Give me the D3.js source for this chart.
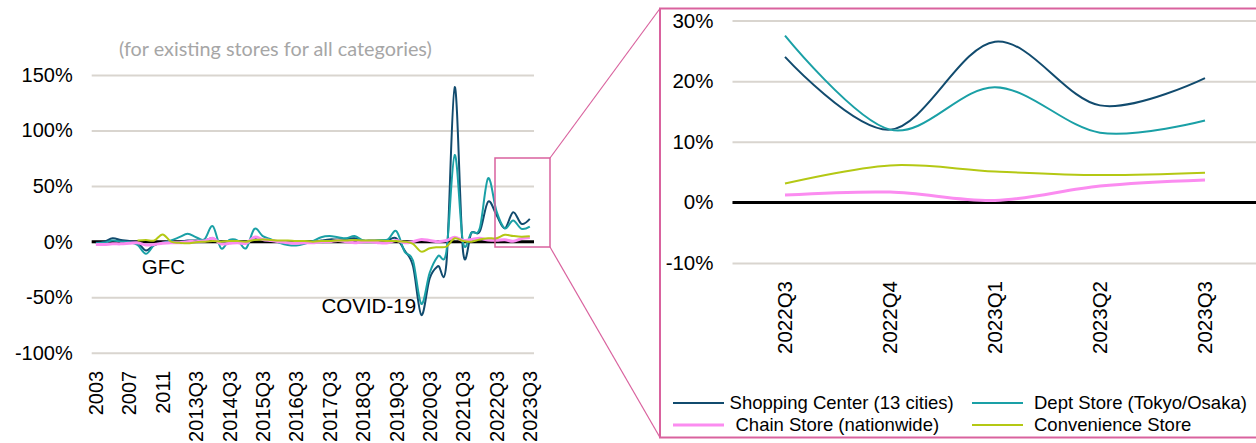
<!DOCTYPE html>
<html>
<head>
<meta charset="utf-8">
<script src="https://cdn.jsdelivr.net/npm/d3@7"></script>
<style>
body { margin: 0; background: #fff; }
text { font-family: "Liberation Sans", Arial, sans-serif; }
</style>
</head>
<body>
<div id="chart"></div>
<script>
var categories = ["2003","2004","2005","2006","2007","2008","2009","2010","2011","2012",
  "2013Q1","2013Q2","2013Q3","2013Q4","2014Q1","2014Q2","2014Q3","2014Q4",
  "2015Q1","2015Q2","2015Q3","2015Q4","2016Q1","2016Q2","2016Q3","2016Q4",
  "2017Q1","2017Q2","2017Q3","2017Q4","2018Q1","2018Q2","2018Q3","2018Q4",
  "2019Q1","2019Q2","2019Q3","2019Q4","2020Q1","2020Q2","2020Q3","2020Q4",
  "2021Q1","2021Q2","2021Q3","2021Q4","2022Q1","2022Q2","2022Q3","2022Q4",
  "2023Q1","2023Q2","2023Q3"];

var shoppingCenter = [-1, 0, 3, 1.5, 0.5, -1, -8, -3, -1, -0.5,
  0, 1, 1, 1, 3, -1, 0, -0.5, -1, 3, 1.5, 1, 0, -0.5, -1, 0,
  0, 1, 2, 2, 2.5, 3, 1, 1, 1, 1.5, 3, -8, -22, -66, -33, -22,
  -20, 139, -9, 8, 9, 36, 24, 12, 26.5, 16, 20.5];

var deptStore = [-1.5, -1, 1, 0, -0.5, -3, -11, -3, -1, 1,
  4, 7, 4, 2, 14, -6, 1.5, 1, -6, 11.5, 5, 2, -1, -3, -3.5, -2,
  0.5, 4, 5, 4, 3, 5, 1, 0, 1.5, 2, 9.5, -9, -17, -56, -28, -13,
  -9, 78, -1, 8, 12, 57, 27.5, 12, 19, 11.5, 13.5];

var chainStore = [-2.5, -2.5, -2, -2, -1.5, -1, -3, -2.5, -1.5, -1,
  -1, 0, 0, 0.5, 3, -2, -1.5, -1, -1.5, 4, 2, 1, 0, -1, -1.5, -1,
  -1, 0, 0, 1, 0, -1, 0, 0, -1, -1, 1, -1, 0, 2, 1, 0,
  1, 4, 1, 2, 3, 1.5, 1.2, 1.7, 0.3, 2.7, 3.7];

var convenienceStore = [null, null, null, null, null, 1, 1.5, 1, 6.5, 0,
  -1, -1.5, -0.5, 0, 0.5, 0, 0.5, 0.5, 0, 1.5, 2, 1.5, 1, 1, 0.5, 0.5,
  0, 0.5, 0.5, 1, 1, 1.5, 1, 1, 1, 0.5, 0.5, 0, -2, -9, -6, -5,
  -4.5, 3, 0.5, 0, 2, 3, 3.1, 6.1, 5.1, 4.5, 4.9];

var seriesNames = ["Shopping Center (13 cities)", "Dept Store (Tokyo/Osaka)",
  "Chain Store (nationwide)", "Convenience Store"];

var leftTicks = [-100, -50, 0, 50, 100, 150];
var rightTicks = [-10, 0, 10, 20, 30];
var zoomCategories = categories.slice(48);

var colors = ["#114b6e", "#1aa0a6", "#fb8cf0", "#b4c814"];
var widths = [2, 2, 3, 2];
var pinkFrame = "#d9629e";

var allSeries = [shoppingCenter, deptStore, chainStore, convenienceStore];

var svg = d3.select("#chart")
  .append("svg")
  .attr("width", 1256)
  .attr("height", 443);

// ---- left chart ----
var xLeft = d3.scaleBand().domain(categories).range([91.7, 534]);
var yLeft = d3.scaleLinear().domain([-100, 150]).range([352.8, 74.9]);

var leftG = svg.append("g");

leftG.append("g")
  .call(d3.axisLeft(yLeft).tickValues(leftTicks).tickSize(-(534 - 91.7)).tickFormat(""))
  .attr("transform", "translate(91.7,0)")
  .call(g => g.select(".domain").remove())
  .call(g => g.selectAll("line").attr("stroke", "#d9d5cf").attr("stroke-width", 2));

leftG.append("g")
  .attr("transform", "translate(91.7,0)")
  .call(d3.axisLeft(yLeft).tickValues(leftTicks).tickSize(0).tickPadding(19).tickFormat(d => d + "%"))
  .call(g => g.select(".domain").remove())
  .call(g => g.selectAll("text").attr("font-size", 20).attr("fill", "#000")
    .style("font-family", "'Liberation Sans', Arial, sans-serif"));

leftG.append("line")
  .attr("x1", 91.7).attr("x2", 534)
  .attr("y1", yLeft(0)).attr("y2", yLeft(0))
  .attr("stroke", "#000").attr("stroke-width", 3);

leftG.append("g")
  .attr("transform", "translate(0,352.8)")
  .call(d3.axisBottom(xLeft).tickValues(categories.filter((d, i) => i % 4 == 0)).tickSize(0))
  .call(g => g.select(".domain").remove())
  .call(g => g.selectAll("text")
    .attr("transform", "rotate(-90)")
    .attr("text-anchor", "end")
    .attr("x", -18).attr("y", 0).attr("dy", "0.36em")
    .attr("font-size", 20).attr("fill", "#000")
    .style("font-family", "'Liberation Sans', Arial, sans-serif"));

var lineLeft = d3.line()
  .defined(d => d.v != null)
  .x(d => xLeft(d.c) + xLeft.bandwidth() / 2)
  .y(d => yLeft(d.v))
  .curve(d3.curveCardinal.tension(0));

allSeries.forEach(function(s, k) {
  leftG.append("path")
    .datum(s.map((v, i) => ({c: categories[i], v: v})))
    .attr("fill", "none")
    .attr("stroke", colors[k])
    .attr("stroke-width", widths[k])
    .attr("d", lineLeft);
});

var subtitle = leftG.append("text")
  .attr("x", 119).attr("y", 56)
  .attr("font-size", 18)
  .style("font-family", "Lato, 'Open Sans', sans-serif")
  .attr("fill", "#a6a6a6")
  .text("(for existing stores for all categories)");
// fit the subtitle to the width it has in the original
var subLen = subtitle.node().getComputedTextLength();
subtitle.attr("font-size", 18 * 313 / subLen);

leftG.append("text").attr("x", 141.7).attr("y", 274).attr("font-size", 20.5).text("GFC");
leftG.append("text").attr("x", 321.5).attr("y", 313.3).attr("font-size", 20.5).text("COVID-19");

// zoom box + connectors
svg.append("rect")
  .attr("x", 495).attr("y", 158).attr("width", 55).attr("height", 89)
  .attr("fill", "none").attr("stroke", pinkFrame).attr("stroke-width", 1.5);
svg.append("line").attr("x1", 550).attr("y1", 158).attr("x2", 660).attr("y2", 8.5)
  .attr("stroke", pinkFrame).attr("stroke-width", 1.2);
svg.append("line").attr("x1", 550).attr("y1", 247).attr("x2", 660).attr("y2", 437.5)
  .attr("stroke", pinkFrame).attr("stroke-width", 1.2);
svg.append("rect")
  .attr("x", 660).attr("y", 8.5).attr("width", 620).attr("height", 429)
  .attr("fill", "#fff").attr("stroke", pinkFrame).attr("stroke-width", 2);

// ---- right chart ----
var xRight = d3.scaleBand().domain(zoomCategories).range([732.5, 1257.5]);
var yRight = d3.scaleLinear().domain([-10, 30]).range([263, 20.5]);

var rightG = svg.append("g");

rightG.append("g")
  .attr("transform", "translate(732.5,0)")
  .call(d3.axisLeft(yRight).tickValues(rightTicks).tickSize(-(1256 - 732.5)).tickFormat(""))
  .call(g => g.select(".domain").remove())
  .call(g => g.selectAll("line").attr("stroke", "#d9d5cf").attr("stroke-width", 2));

rightG.append("g")
  .attr("transform", "translate(732.5,0)")
  .call(d3.axisLeft(yRight).tickValues(rightTicks).tickSize(0).tickPadding(19).tickFormat(d => d + "%"))
  .call(g => g.select(".domain").remove())
  .call(g => g.selectAll("text").attr("font-size", 20.5).attr("fill", "#000")
    .style("font-family", "'Liberation Sans', Arial, sans-serif"));

rightG.append("line")
  .attr("x1", 732.5).attr("x2", 1256)
  .attr("y1", yRight(0)).attr("y2", yRight(0))
  .attr("stroke", "#000").attr("stroke-width", 3);

rightG.append("g")
  .attr("transform", "translate(0,263)")
  .call(d3.axisBottom(xRight).tickSize(0))
  .call(g => g.select(".domain").remove())
  .call(g => g.selectAll("text")
    .attr("transform", "rotate(-90)")
    .attr("text-anchor", "end")
    .attr("x", -18).attr("y", 0).attr("dy", "0.36em")
    .attr("font-size", 20.5).attr("fill", "#000")
    .style("font-family", "'Liberation Sans', Arial, sans-serif"));

var lineRight = d3.line()
  .x(d => xRight(d.c) + xRight.bandwidth() / 2)
  .y(d => yRight(d.v))
  .curve(d3.curveCardinal.tension(0));

allSeries.forEach(function(s, k) {
  rightG.append("path")
    .datum(s.slice(48).map((v, i) => ({c: zoomCategories[i], v: v})))
    .attr("fill", "none")
    .attr("stroke", colors[k])
    .attr("stroke-width", widths[k])
    .attr("d", lineRight);
});

// legend
var legendPos = [
  {x: 673, y: 403, tx: 729.6},
  {x: 972, y: 403, tx: 1034},
  {x: 673, y: 425, tx: 735.5},
  {x: 972, y: 425, tx: 1034}
];
var legend = svg.append("g");
seriesNames.forEach(function(name, k) {
  var p = legendPos[k];
  legend.append("line")
    .attr("x1", p.x).attr("x2", p.x + 51)
    .attr("y1", p.y).attr("y2", p.y)
    .attr("stroke", colors[k]).attr("stroke-width", widths[k]);
  legend.append("text")
    .attr("x", p.tx).attr("y", p.y).attr("dy", "0.35em")
    .attr("font-size", 18.5).attr("fill", "#000")
    .text(name);
});
</script>
</body>
</html>
